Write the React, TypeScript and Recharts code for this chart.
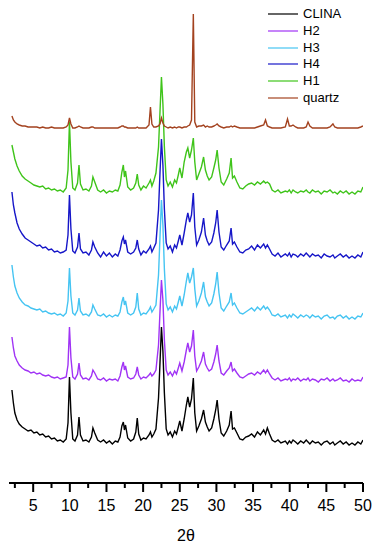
import { LineChart, Line, XAxis, YAxis, Legend } from 'recharts';

// 2θ positions of the sampled points (shared by all patterns)
const twoTheta = [
  2.1, 2.3, 2.5, 2.8, 3.1, 3.5, 3.9, 4.3, 4.7, 5.1,
  5.5, 5.9, 6.3, 6.7, 7.1, 7.5, 7.9, 8.3, 8.7, 9.1,
  9.5, 9.75, 9.95, 10.15, 10.4, 10.7, 11.05, 11.25, 11.45, 11.8,
  12.2, 12.6, 12.95, 13.15, 13.4, 13.8, 14.2, 14.6, 15.0, 15.4,
  15.8, 16.2, 16.55, 16.85, 17.1, 17.3, 17.45, 17.6, 17.9, 18.3,
  18.7, 19.0, 19.2, 19.4, 19.7, 20.05, 20.4, 20.8, 21.0, 21.2,
  21.45, 21.75, 22.1, 22.3, 22.5, 22.7, 22.9, 23.15, 23.4, 23.7,
  24.0, 24.3, 24.55, 24.8, 25.0, 25.3, 25.6, 25.9, 26.1, 26.35,
  26.6, 26.85, 27.05, 27.3, 27.6, 27.95, 28.25, 28.5, 28.75, 29.0,
  29.35, 29.65, 29.9, 30.1, 30.35, 30.65, 31.0, 31.4, 31.75, 32.0,
  32.2, 32.45, 32.8, 33.2, 33.6, 34.0, 34.4, 34.8, 35.2, 35.6,
  36.0, 36.45, 36.7, 36.95, 37.25, 37.6, 38.0, 38.4, 38.8, 39.4,
  39.7, 39.95, 40.2, 40.45, 40.8, 41.1, 41.5, 41.9, 42.25, 42.5,
  42.75, 43.1, 43.5, 43.9, 44.3, 44.7, 45.1, 45.5, 45.9, 46.15,
  46.5, 46.9, 47.3, 47.7, 48.1, 48.5, 48.9, 49.3, 49.7, 50.0,
];

// stacked intensities (a.u., offsets included as plotted)
const clina = [
  93, 80, 70, 63, 59, 56, 54, 52, 53, 50,
  51, 48, 49, 46, 47, 44, 45, 42, 43, 41,
  44, 60, 106, 70, 44, 42, 48, 66, 48, 42,
  43, 41, 46, 55, 50, 43, 41, 43, 40, 42,
  39, 42, 41, 46, 57, 61, 53, 58, 45, 42,
  44, 51, 65, 49, 43, 45, 44, 48, 51, 46,
  49, 54, 85, 120, 156, 132, 90, 54, 48, 51,
  46, 52, 49, 56, 62, 52, 64, 78, 86, 76,
  84, 105, 70, 52, 57, 64, 73, 61, 56, 52,
  55, 64, 73, 83, 64, 50, 47, 52, 58, 72,
  54, 55, 50, 44, 43, 46, 47, 49, 46, 51,
  48, 53, 49, 55, 49, 43, 41, 43, 40, 42,
  39, 42, 40, 43, 41, 39, 42, 40, 43, 41,
  39, 42, 40, 41, 38, 41, 42, 39, 41, 38,
  40, 42, 39, 41, 38, 40, 38, 41, 39, 43,
];

const h2 = [
  146, 135, 127, 122, 118, 115, 113, 112, 110, 111,
  109, 110, 108, 107, 108, 106, 105, 106, 104, 105,
  106, 118, 156, 125, 106, 104, 109, 120, 108, 104,
  105, 103, 107, 113, 110, 104, 103, 105, 102, 104,
  103, 104, 102, 107, 116, 121, 113, 117, 106, 104,
  105, 109, 116, 108, 104, 106, 105, 108, 110, 107,
  109, 113, 138, 171, 203, 183, 143, 113, 108, 111,
  107, 112, 109, 115, 120, 112, 121, 133, 140, 131,
  137, 153, 127, 112, 116, 122, 131, 119, 115, 112,
  114, 121, 129, 138, 122, 110, 108, 112, 115, 121,
  112, 114, 110, 106, 105, 107, 109, 110, 108, 111,
  109, 113, 110, 113, 109, 105, 103, 105, 102, 104,
  103, 105, 102, 104, 103, 105, 102, 104, 103, 105,
  102, 104, 103, 101, 104, 103, 105, 102, 104, 102,
  103, 105, 102, 103, 101, 104, 102, 103, 102, 106,
];

const h3 = [
  218, 206, 197, 190, 185, 181, 178, 177, 175, 174,
  173, 174, 171, 172, 170, 169, 170, 168, 169, 167,
  170, 182, 215, 187, 170, 168, 173, 185, 172, 168,
  169, 167, 171, 178, 174, 168, 167, 169, 166, 168,
  166, 168, 167, 171, 181, 186, 178, 182, 170, 168,
  170, 176, 190, 174, 168, 170, 169, 173, 176, 171,
  174, 178, 208, 246, 283, 258, 214, 179, 173, 176,
  171, 177, 174, 181, 187, 177, 188, 202, 210, 200,
  206, 215, 194, 177, 182, 190, 201, 186, 181, 177,
  180, 189, 199, 211, 190, 175, 172, 177, 181, 190,
  178, 180, 175, 170, 169, 171, 173, 175, 172, 176,
  173, 177, 174, 176, 173, 168, 167, 169, 166, 168,
  165, 168, 166, 169, 167, 165, 168, 166, 168, 167,
  165, 168, 166, 167, 164, 167, 168, 165, 166, 164,
  167, 168, 165, 167, 164, 166, 164, 167, 166, 170,
];

const h4 = [
  291, 278, 270, 260, 254, 249, 245, 243, 241, 239,
  237, 238, 235, 236, 233, 234, 231, 232, 230, 231,
  233, 248, 288, 254, 232, 230, 236, 250, 234, 230,
  231, 228, 233, 241, 236, 230, 226, 231, 227, 230,
  226, 229, 227, 233, 242, 246, 239, 243, 231, 229,
  231, 235, 243, 234, 228, 232, 230, 234, 237, 231,
  235, 240, 273, 310, 344, 318, 274, 240, 234, 237,
  231, 238, 235, 242, 248, 238, 250, 263, 270, 261,
  268, 290, 256, 238, 243, 251, 265, 248, 242, 238,
  241, 250, 260, 273, 251, 236, 233, 238, 242, 255,
  239, 241, 236, 231, 230, 233, 234, 237, 233, 238,
  235, 239, 235, 238, 234, 229, 227, 230, 226, 229,
  227, 230, 226, 229, 228, 226, 229, 227, 230, 228,
  226, 229, 227, 228, 225, 229, 227, 226, 228, 225,
  227, 229, 226, 228, 225, 227, 225, 228, 226, 231,
];

const h1 = [
  338, 331, 324, 317, 312, 307, 304, 302, 300, 298,
  297, 296, 297, 294, 295, 293, 294, 292, 293, 291,
  295, 313, 361, 321, 295, 293, 300, 318, 299, 293,
  294, 292, 297, 306, 301, 293, 291, 293, 290, 292,
  291, 293, 292, 298, 311, 318, 306, 312, 296, 293,
  295, 300, 309, 298, 293, 297, 295, 300, 303, 297,
  302, 310, 336, 371, 406, 379, 336, 303, 297, 301,
  296, 303, 300, 308, 315, 305, 321, 331, 335, 325,
  333, 345, 321, 303, 309, 316, 326, 313, 307, 303,
  306, 315, 323, 333, 315, 301, 298, 304, 310, 325,
  305, 307, 301, 295, 294, 297, 299, 300, 298, 301,
  299, 302, 300, 301, 299, 293, 291, 293, 290, 292,
  291, 293, 290, 293, 291, 290, 292, 291, 293, 291,
  290, 293, 291, 292, 289, 292, 291, 293, 290, 291,
  289, 292, 290, 292, 289, 291, 289, 292, 291, 296,
];

const quartz = [
  367, 363, 361, 359, 358, 357, 357, 356, 356, 356,
  356, 355, 356, 355, 355, 356, 355, 355, 355, 355,
  356, 358, 365, 359, 355, 355, 356, 357, 356, 355,
  355, 355, 356, 356, 355, 355, 355, 355, 355, 355,
  355, 355, 355, 356, 357, 357, 356, 356, 355, 355,
  355, 355, 356, 355, 355, 355, 355, 358, 376, 359,
  356, 356, 357, 359, 365, 360, 357, 356, 355, 356,
  355, 356, 355, 356, 356, 355, 356, 356, 357, 358,
  363, 469, 361, 356, 357, 357, 358, 356, 357, 356,
  356, 357, 358, 359, 357, 356, 355, 356, 356, 357,
  356, 357, 356, 355, 355, 355, 355, 355, 355, 356,
  357, 358, 363, 357, 356, 355, 355, 355, 355, 356,
  364, 357, 357, 358, 356, 355, 355, 355, 356, 361,
  357, 355, 355, 355, 355, 355, 355, 356, 359, 356,
  355, 355, 355, 355, 355, 355, 355, 355, 356, 357,
];

const majorTicks = [5, 10, 15, 20, 25, 30, 35, 40, 45, 50];
const minorTicks = [2.5, 7.5, 12.5, 17.5, 22.5, 27.5, 32.5, 37.5, 42.5, 47.5];
const allTicks = [...majorTicks, ...minorTicks].sort((a, b) => a - b);

const series = [
  { key: 'clina', name: 'CLINA', color: '#000000' },
  { key: 'h2', name: 'H2', color: '#a033f5' },
  { key: 'h3', name: 'H3', color: '#45c4f2' },
  { key: 'h4', name: 'H4', color: '#1616c8' },
  { key: 'h1', name: 'H1', color: '#3fc41a' },
  { key: 'quartz', name: 'quartz', color: '#a3421f' },
];
const legendOrder = series.map((s) => s.name);

const FONT = '"Liberation Sans", Arial, sans-serif';

const data = twoTheta.map((t, i) => ({
  t,
  clina: clina[i],
  h2: h2[i],
  h3: h3[i],
  h4: h4[i],
  h1: h1[i],
  quartz: quartz[i],
}));

// eslint-disable-next-line @typescript-eslint/no-explicit-any
function AxisTick({ x, y, payload }: any) {
  const major = majorTicks.includes(payload.value);
  return (
    <g>
      <line x1={x} x2={x} y1={y} y2={y + (major ? 9 : 5)} stroke="#000" strokeWidth={2} />
      {major && (
        <text x={x} y={y + 28} textAnchor="middle" fontSize={16} fontFamily={FONT} fill="#000">
          {payload.value}
        </text>
      )}
    </g>
  );
}

// eslint-disable-next-line @typescript-eslint/no-explicit-any
function LegendBox({ payload }: any) {
  const items = [...(payload ?? [])].sort(
    (a: any, b: any) => legendOrder.indexOf(a.value) - legendOrder.indexOf(b.value),
  );
  return (
    <div style={{ fontFamily: FONT, fontSize: 13, color: '#000' }}>
      {items.map((p: any) => (
        <div key={p.value} style={{ display: 'flex', alignItems: 'center', height: 16.7 }}>
          <svg width={30} height={4}>
            <line x1={0} x2={30} y1={2} y2={2} stroke={p.color} strokeWidth={1.2} />
          </svg>
          <span style={{ marginLeft: 5, lineHeight: '16px' }}>{p.value}</span>
        </div>
      ))}
    </div>
  );
}

export default function App() {
  return (
    <div style={{ position: 'absolute', left: 0, top: 0, background: '#fff' }}>
      <LineChart width={377} height={550} data={data} margin={{ top: 13, right: 14, bottom: 7, left: 9 }}>
        <XAxis
          dataKey="t"
          type="number"
          domain={[1.7, 50]}
          ticks={allTicks}
          interval={0}
          allowDataOverflow
          height={60}
          tickSize={0}
          tickMargin={0}
          tick={<AxisTick />}
          axisLine={{ stroke: '#000', strokeWidth: 2 }}
          label={{ value: '2θ', position: 'insideBottom', offset: 2, fontSize: 16, fill: '#000', fontFamily: FONT }}
        />
        <YAxis hide domain={[0, 470]} allowDataOverflow />
        <Legend
          layout="vertical"
          align="center"
          verticalAlign="middle"
          wrapperStyle={{ left: 268, top: 6, width: 109 }}
          content={<LegendBox />}
        />
        {series.map((s) => (
          <Line
            key={s.key}
            dataKey={s.key}
            name={s.name}
            stroke={s.color}
            strokeWidth={1.4}
            dot={false}
            type="linear"
            isAnimationActive={false}
          />
        ))}
      </LineChart>
    </div>
  );
}
